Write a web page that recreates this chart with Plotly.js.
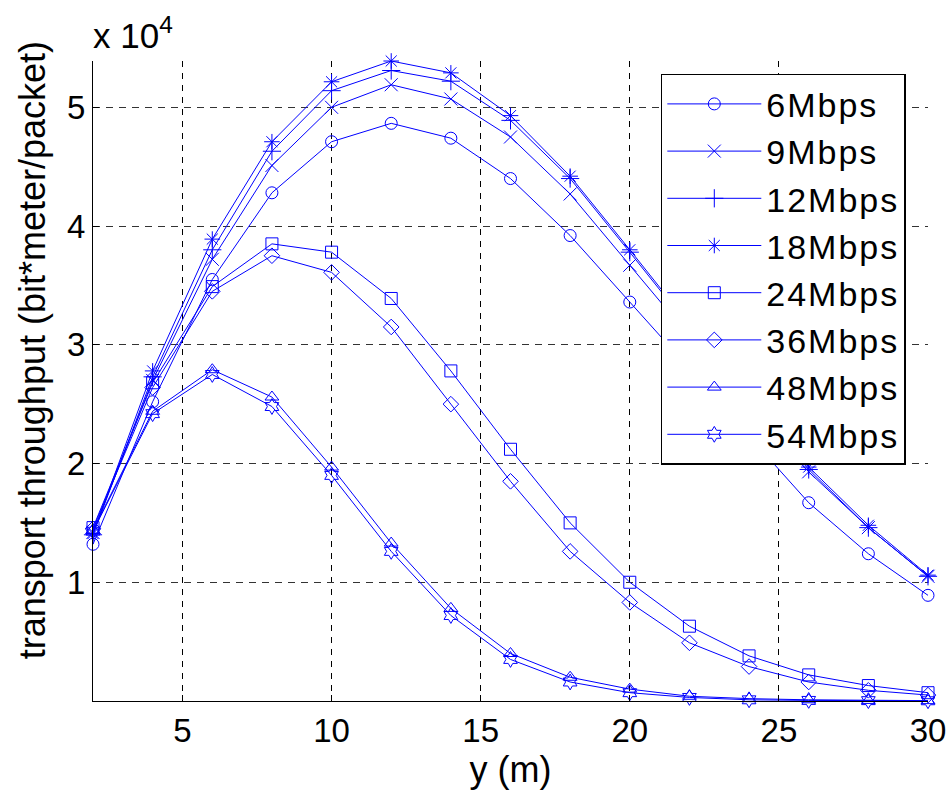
<!DOCTYPE html>
<html>
<head>
<meta charset="utf-8">
<script src="https://cdn.plot.ly/plotly-3.0.1.min.js"></script>
<style>
html,body{margin:0;padding:0;background:#fff;}
#chart{width:948px;height:792px;}
.legendtext{letter-spacing:2px;}
</style>
</head>
<body>
<div id="chart"></div>
<script>
// distance y (m)
const xValues = [2, 4, 6, 8, 10, 12, 14, 16, 18, 20, 22, 24, 26, 28, 30];

// transport throughput (bit*meter/packet), in units of 1e4
const s6Mbps  = [1.32, 2.52, 3.55, 4.28, 4.71, 4.865, 4.74, 4.40, 3.92, 3.36, 2.80, 2.23, 1.67, 1.24, 0.89];
const s9Mbps  = [1.42, 2.70, 3.72, 4.51, 5.00, 5.19, 5.07, 4.75, 4.27, 3.67, 3.07, 2.49, 1.93, 1.46, 1.05];
const s12Mbps = [1.40, 2.73, 3.80, 4.63, 5.14, 5.31, 5.22, 4.89, 4.40, 3.78, 3.15, 2.53, 1.95, 1.46, 1.05];
const s18Mbps = [1.41, 2.78, 3.89, 4.71, 5.215, 5.39, 5.29, 4.93, 4.42, 3.80, 3.17, 2.55, 1.97, 1.48, 1.06];
const s24Mbps = [1.46, 2.68, 3.49, 3.85, 3.78, 3.39, 2.78, 2.12, 1.50, 1.00, 0.63, 0.38, 0.22, 0.13, 0.07];
const s36Mbps = [1.45, 2.64, 3.45, 3.75, 3.61, 3.15, 2.50, 1.85, 1.26, 0.83, 0.49, 0.29, 0.16, 0.09, 0.05];
const s48Mbps = [1.44, 2.44, 2.79, 2.56, 1.97, 1.33, 0.78, 0.40, 0.20, 0.10, 0.04, 0.02, 0.01, 0.005, 0.003];
const s54Mbps = [1.43, 2.42, 2.75, 2.48, 1.90, 1.26, 0.72, 0.35, 0.16, 0.07, 0.03, 0.01, 0.005, 0.003, 0.002];

const seriesNames = ["6Mbps", "9Mbps", "12Mbps", "18Mbps", "24Mbps", "36Mbps", "48Mbps", "54Mbps"];
const seriesValues = [s6Mbps, s9Mbps, s12Mbps, s18Mbps, s24Mbps, s36Mbps, s48Mbps, s54Mbps];
const seriesSymbols = ["circle-open", "x-thin-open", "cross-thin-open", "asterisk-open",
                       "square-open", "diamond-open", "triangle-up-open", "hexagram-open"];

const xTickVals = [5, 10, 15, 20, 25, 30];
const yTickVals = [10000, 20000, 30000, 40000, 50000];
const yTickText = ["1", "2", "3", "4", "5"];

const SCALE = 1e4;
const FONT = "Liberation Sans, Arial, Helvetica, sans-serif";

const traces = seriesNames.map((name, i) => ({
  type: "scatter",
  mode: "lines+markers",
  name: name,
  x: xValues,
  y: seriesValues[i].map(v => v * SCALE),
  cliponaxis: false,
  line: {color: "#0000ff", width: 1},
  marker: {
    symbol: seriesSymbols[i],
    size: (seriesSymbols[i] === "asterisk-open" || seriesSymbols[i] === "cross-thin-open" || seriesSymbols[i] === "x-thin-open") ? 13 : 12,
    color: "#0000ff",
    line: {color: "#0000ff", width: 1}
  }
}));

const layout = {
  width: 948,
  height: 792,
  paper_bgcolor: "#ffffff",
  plot_bgcolor: "#ffffff",
  margin: {l: 93, r: 20, t: 61, b: 91},
  font: {family: FONT, size: 33, color: "#000"},
  showlegend: true,
  legend: {
    x: 0.68, xanchor: "left",
    y: 0.98, yanchor: "top",
    bgcolor: "#ffffff",
    bordercolor: "#000000",
    borderwidth: 1.5,
    font: {family: FONT, size: 34, color: "#000"},
    itemwidth: 94,
    tracegroupgap: 0
  },
  xaxis: {
    range: [2, 30],
    tickvals: xTickVals,
    ticks: "inside",
    ticklen: 6,
    tickcolor: "#000",
    showline: true,
    linecolor: "#000",
    linewidth: 1,
    mirror: false,
    zeroline: false,
    showgrid: true,
    gridcolor: "#000",
    gridwidth: 1,
    griddash: "6px,6px",
    tickfont: {family: FONT, size: 33, color: "#000"},
    title: {text: "y (m)", font: {family: FONT, size: 36, color: "#000"}, standoff: 6}
  },
  yaxis: {
    range: [0, 53900],
    tickvals: yTickVals,
    ticktext: yTickText,
    ticks: "inside",
    ticklen: 6,
    tickcolor: "#000",
    showline: true,
    linecolor: "#000",
    linewidth: 1,
    mirror: false,
    zeroline: false,
    showgrid: true,
    gridcolor: "#333",
    gridwidth: 1,
    griddash: "7px,6px",
    tickfont: {family: FONT, size: 33, color: "#000"}
  },
  annotations: [{
    xref: "paper", yref: "paper",
    x: 0, y: 1, xanchor: "left", yanchor: "bottom",
    xshift: -2, yshift: 4,
    text: "x 10<sup>4</sup>",
    showarrow: false,
    font: {family: FONT, size: 35, color: "#000"}
  }, {
    xref: "paper", yref: "paper",
    x: 0, y: 0.548, xanchor: "center", yanchor: "middle",
    xshift: -61,
    textangle: -90,
    text: "transport throughput (bit*meter/packet)",
    showarrow: false,
    font: {family: FONT, size: 36, color: "#000"}
  }]
};

Plotly.newPlot("chart", traces, layout, {displayModeBar: false, staticPlot: true});
</script>
</body>
</html>
